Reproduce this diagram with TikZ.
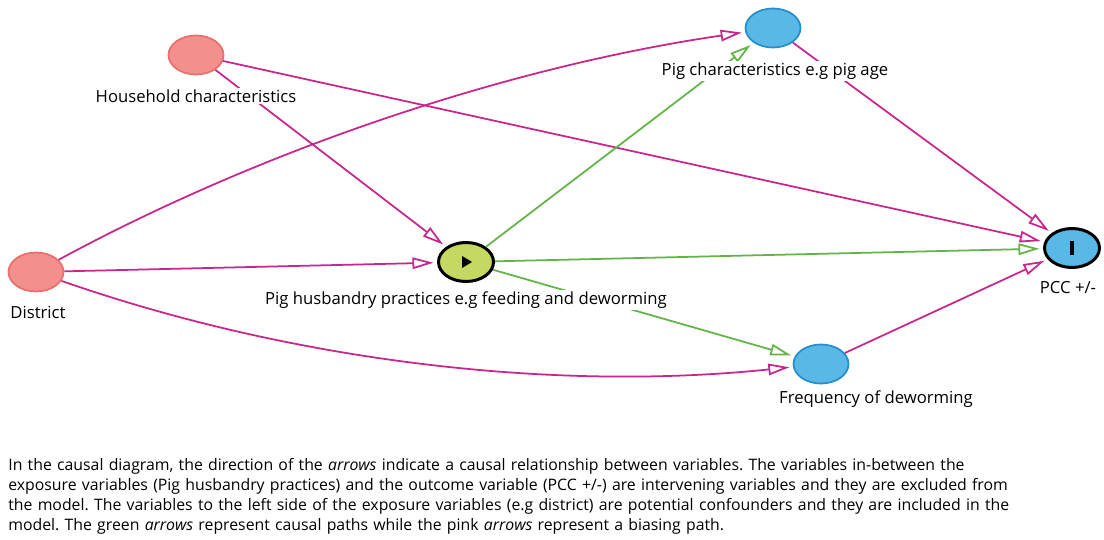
\documentclass[tikz,border=0pt]{standalone}
\usepackage{fontspec}
\setmainfont{Open Sans}
\usepackage{tikz}
\usetikzlibrary{shapes.geometric}
\usetikzlibrary{arrows.meta}
\usetikzlibrary{positioning}
\definecolor{confill}{RGB}{243,143,141}
\definecolor{condraw}{RGB}{232,112,110}
\definecolor{medfill}{RGB}{90,184,230}
\definecolor{meddraw}{RGB}{35,145,205}
\definecolor{expfill}{RGB}{196,216,98}
\definecolor{biascol}{RGB}{200,38,140}
\definecolor{causcol}{RGB}{98,180,72}
\tikzset{
  var/.style = {ellipse, draw, line width=1pt, minimum width=1.1cm, minimum height=0.78cm, inner sep=0pt},
  confounder/.style = {var, fill=confill, draw=condraw},
  mediator/.style = {var, fill=medfill, draw=meddraw},
  exposure/.style = {var, fill=expfill, draw=black, line width=1.7pt},
  outcome/.style = {var, fill=medfill, draw=black, line width=1.7pt},
  bias/.style = {draw=biascol, line width=1pt, shorten >=2pt, -{Triangle[open, length=12pt, width=6.5pt, line width=1pt]}},
  causal/.style = {draw=causcol, line width=1pt, shorten >=2pt, -{Triangle[open, length=12pt, width=6.5pt, line width=1pt]}},
  varname/.style = {font=\fontsize{9.5}{11}\selectfont, fill=white, inner sep=1pt}
}

\begin{document}
\frenchspacing
\begin{tikzpicture}[x=0.02cm, y=-0.02cm]
  \useasboundingbox (0,0) rectangle (1104,540);

  \node[confounder] (house) at (196,55) {};
  \node[confounder] (dist) at (36,272) {};
  \node[exposure] (husb) at (466,262) {};
  \node[mediator] (pigchar) at (773,28) {};
  \node[mediator] (deworm) at (821,364) {};
  \node[outcome] (pcc) at (1072,248) {};

  % biasing paths
  \draw[bias] (house) -- (pcc);
  \draw[bias] (house) -- (husb);
  \draw[bias] (dist) .. controls (267,147) and (513,66) .. (pigchar);
  \draw[bias] (dist) -- (husb);
  \draw[bias] (dist) .. controls (291,361) and (552,392) .. (deworm);
  \draw[bias] (pigchar) -- (pcc);
  \draw[bias] (deworm) -- (pcc);

  % causal paths
  \draw[causal] (husb) -- (pigchar);
  \draw[causal] (husb) -- (pcc);
  \draw[causal] (husb) -- (deworm);

  \fill ([shift={(-4,-6)}]husb.center) -- ++(10,6) -- ++(-10,6) -- cycle;
  \fill ([shift={(-2,-7)}]pcc.center) rectangle ++(4,14);

  \node[varname] (houselbl) at (196,96) {Household characteristics};
  \node[varname] (distlbl) at (38,312) {District};
  \node[varname] (husblbl) at (466,300) {Pig husbandry practices e.g feeding and deworming};
  \node[varname] (pigcharlbl) at (775,71) {Pig characteristics e.g pig age};
  \node[varname] (dewormlbl) at (876,399) {Frequency of deworming};
  \node[varname] (pcclbl) at (1068,288) {PCC +/-};

  \node[anchor=north west, align=left, inner sep=0pt, text width=21.9cm,
        font=\fontsize{9}{11.3}\selectfont] (caption) at (8,458)
    {In the causal diagram, the direction of the \emph{arrows} indicate a causal relationship between variables. The variables in-between the\\
     exposure variables (Pig husbandry practices) and the outcome variable (PCC +/-) are intervening variables and they are excluded from\\
     the model. The variables to the left side of the exposure variables (e.g district) are potential confounders and they are included in the\\
     model. The green \emph{arrows} represent causal paths while the pink \emph{arrows} represent a biasing path.};
\end{tikzpicture}
\end{document}
